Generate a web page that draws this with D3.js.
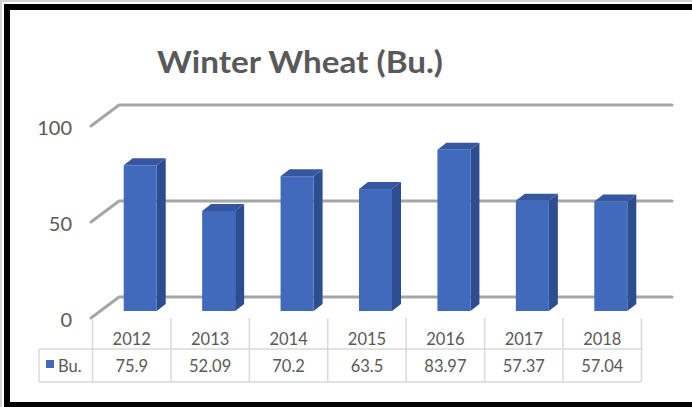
<!DOCTYPE html>
<html>
<head>
<meta charset="utf-8">
<script src="https://cdn.jsdelivr.net/npm/d3@7"></script>
<style>
  html, body { margin: 0; padding: 0; background: #fff; }
  svg { display: block; }
</style>
</head>
<body>
<script>
// data
let years = ['2012', '2013', '2014', '2015', '2016', '2017', '2018'];
let bushels = [75.9, 52.09, 70.2, 63.5, 83.97, 57.37, 57.04];
let valueLabels = ['75.9', '52.09', '70.2', '63.5', '83.97', '57.37', '57.04'];
let yTicks = [0, 50, 100];
let seriesName = 'Bu.';
let title = 'Winter Wheat (Bu.)';

let width = 692;
let height = 407;

let svg = d3.select('body').append('svg')
  .attr('width', width)
  .attr('height', height);

let textGrey = '#595959';
let font = 'Lato, "Open Sans", sans-serif';

// back wall of the 3d box
let y = d3.scaleLinear().domain([0, 100]).range([297, 105]);
let x = d3.scaleBand().domain(years).range([92.5, 641.5]);

// depth offsets
let floorDx = -28, floorDy = 21;   // back wall -> front edge
let barDy = 14;                    // back wall -> bar front face
let sideDx = 9, sideDy = -7;       // bar depth
let barW = 33;

// outer frame
svg.append('path')
  .attr('d', 'M1,' + height + 'V1H' + width)
  .attr('fill', 'none')
  .attr('stroke', '#d4d4d4')
  .attr('stroke-width', 2);
svg.append('rect')
  .attr('x', 7).attr('y', 7)
  .attr('width', width + 20).attr('height', 398)
  .attr('fill', 'none')
  .attr('stroke', '#000')
  .attr('stroke-width', 6);

// title
svg.append('text')
  .attr('x', 300).attr('y', 73)
  .attr('text-anchor', 'middle')
  .attr('font-family', font)
  .attr('font-weight', 'bold')
  .attr('font-size', 31)
  .attr('fill', textGrey)
  .attr('textLength', 286)
  .attr('lengthAdjust', 'spacingAndGlyphs')
  .text(title);

// gridlines with the slanted left part
let grid = svg.append('g');
yTicks.forEach((t) => {
  grid.append('path')
    .attr('d', 'M' + (119 + floorDx) + ',' + (y(t) + floorDy) + 'L119,' + y(t) + 'H672')
    .attr('fill', 'none')
    .attr('stroke', '#a6a6a6')
    .attr('stroke-width', 3)
    .attr('stroke-linecap', 'round');

  grid.append('text')
    .attr('x', 72)
    .attr('y', y(t) + floorDy + 9)
    .attr('text-anchor', 'end')
    .attr('font-family', font)
    .attr('font-size', 20)
    .attr('fill', textGrey)
    .text(t);
});

// 3d bars
let bars = svg.append('g');
years.forEach((yr, i) => {
  let x0 = x(yr) + x.bandwidth() / 2 + 8.5 - barW / 2;
  let x1 = x0 + barW;
  let top = y(bushels[i]) + barDy;
  let bot = y(0) + barDy;

  bars.append('path')
    .attr('d', 'M' + x1 + ',' + top + 'l' + sideDx + ',' + sideDy + 'V' + (bot + sideDy) + 'l' + (-sideDx) + ',' + (-sideDy) + 'Z')
    .attr('fill', '#2c4d90');
  bars.append('path')
    .attr('d', 'M' + x0 + ',' + top + 'l' + sideDx + ',' + sideDy + 'H' + (x1 + sideDx) + 'l' + (-sideDx) + ',' + (-sideDy) + 'Z')
    .attr('fill', '#35579f');
  bars.append('rect')
    .attr('x', x0).attr('y', top)
    .attr('width', barW).attr('height', bot - top)
    .attr('fill', '#4169bc');
});

// data table
let table = svg.append('g');
let tblTop = 318, tblMid = 349, tblBot = 382, tblLeft = 39;
let lineCol = '#d9d9d9';

table.append('path')
  .attr('d', 'M' + tblLeft + ',' + tblMid + 'H' + x.range()[1] + 'M' + tblLeft + ',' + tblBot + 'H' + x.range()[1] +
    'M' + tblLeft + ',' + tblMid + 'V' + tblBot)
  .attr('stroke', lineCol)
  .attr('stroke-width', 1.5)
  .attr('fill', 'none');

years.concat(['end']).forEach((yr, i) => {
  let xx = i < years.length ? x(yr) : x.range()[1];
  table.append('line')
    .attr('x1', xx).attr('x2', xx)
    .attr('y1', tblTop).attr('y2', tblBot)
    .attr('stroke', lineCol)
    .attr('stroke-width', 1.5);
});

years.forEach((yr, i) => {
  let cx = x(yr) + x.bandwidth() / 2;
  table.append('text')
    .attr('x', cx).attr('y', 345)
    .attr('text-anchor', 'middle')
    .attr('font-family', font)
    .attr('font-size', 16.5)
    .attr('fill', textGrey)
    .text(yr);
  table.append('text')
    .attr('x', cx).attr('y', 372)
    .attr('text-anchor', 'middle')
    .attr('font-family', font)
    .attr('font-size', 16.5)
    .attr('fill', textGrey)
    .text(valueLabels[i]);
});

// legend key in the table
table.append('rect')
  .attr('x', 46).attr('y', 360)
  .attr('width', 8).attr('height', 8)
  .attr('fill', '#4169bc');
table.append('text')
  .attr('x', 58).attr('y', 372)
  .attr('font-family', font)
  .attr('font-size', 16.5)
  .attr('fill', textGrey)
  .text(seriesName);
</script>
</body>
</html>
